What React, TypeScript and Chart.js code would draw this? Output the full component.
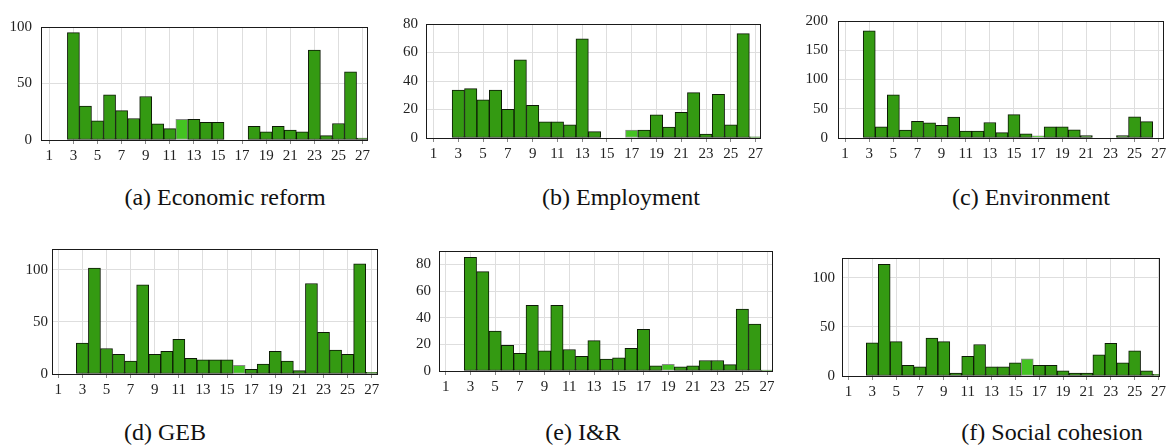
import React, { useEffect, useRef } from 'react';
import { Chart, registerables } from 'chart.js';

Chart.register(...registerables);

// ---------- data ----------
const positions = [1, 2, 3, 4, 5, 6, 7, 8, 9, 10, 11, 12, 13, 14, 15, 16, 17, 18, 19, 20, 21, 22, 23, 24, 25, 26, 27];
const xTickLabels = [1, 3, 5, 7, 9, 11, 13, 15, 17, 19, 21, 23, 25, 27];

const economicReform = [0, 0, 95, 30, 17, 40, 26, 19, 38.5, 14.3, 10, 18.3, 18.3, 15.7, 15.7, 0, 0, 12, 7.3, 12, 8.7, 7.3, 79.5, 3.9, 14.6, 60.4, 1.7];
const employment = [0, 0, 33.6, 34.7, 26.8, 33.6, 20.1, 54.8, 23, 11.3, 11.3, 9.2, 69.6, 4.5, 0, 0, 5.6, 5.6, 16.2, 7.7, 18, 31.8, 2.7, 30.6, 9.2, 73.2, 0.9];
const environment = [0, 0, 183, 18.9, 74, 13.5, 28.6, 26, 21.6, 35.7, 11.9, 11.9, 26.5, 9.2, 40, 7, 3.8, 19, 19, 14, 4.3, 0, 0, 4.3, 36.2, 28.1, 0];
const geb = [0, 0, 29.6, 101.6, 24.5, 18.8, 12.4, 85.7, 18.8, 21.7, 33.4, 15, 13.7, 13.7, 13.7, 8.3, 4.5, 9.6, 21.7, 12.4, 3.2, 86.9, 40.1, 22.9, 18.8, 105.7, 1.6];
const iAndR = [0, 0, 85.3, 74.5, 30, 19.2, 13.2, 49.2, 15.1, 49.2, 16.1, 11, 22.8, 8.9, 9.8, 17, 31.2, 3.8, 5, 3.1, 3.8, 7.9, 7.9, 4.8, 46.4, 35.1, 0.7];
const socialCohesion = [0, 0, 33.7, 113.5, 35, 10.9, 9.2, 38.6, 35, 3, 20.1, 32, 9.2, 9.2, 13.5, 17.5, 10.9, 10.9, 5.3, 3, 3, 21.5, 33.3, 13.5, 25.7, 5.3, 1.7];

const captions = ['(a) Economic reform', '(b) Employment', '(c) Environment', '(d) GEB', '(e) I&R', '(f) Social cohesion'];
const highlighted = [12, 17, 17, 16, 19, 16];
const yTicksA = [0, 50, 100];
const yTicksB = [0, 20, 40, 60, 80];
const yTicksC = [0, 50, 100, 150, 200];
const yTicksD = [0, 50, 100];
const yTicksE = [0, 20, 40, 60, 80];
const yTicksF = [0, 50, 100];
const yMax = [100, 80, 200, 120, 90, 120];

// ---------- layout (positions/styles) ----------
type Layout = { l: number; t: number; r: number; b: number; xmin: number; xmax: number; ypad: number; cx: number; cy: number };
const layouts: Layout[] = [
  { l: 41, t: 21, r: 368, b: 140, xmin: 0.31, xmax: 27.45, ypad: 9, cx: 225, cy: 197 },
  { l: 426, t: 19, r: 761, b: 138, xmin: 0.39, xmax: 27.44, ypad: 8, cx: 621, cy: 197 },
  { l: 838, t: 14, r: 1164, b: 138, xmin: 0.41, xmax: 27.44, ypad: 10, cx: 1031, cy: 197 },
  { l: 52, t: 248, r: 378, b: 374, xmin: 0.48, xmax: 27.52, ypad: 4, cx: 165, cy: 432 },
  { l: 439, t: 246, r: 773, b: 371, xmin: 0.46, xmax: 27.48, ypad: 8, cx: 583, cy: 432 },
  { l: 842, t: 254, r: 1163, b: 376, xmin: 0.46, xmax: 27.1, ypad: 7, cx: 1052, cy: 432 },
];

const DARK = '#349a12';
const LIGHT = '#44c322';
const FONT = '"Liberation Serif", serif';
const PADL = 45;
const PADT = 12;
const PADR = 6;
const PADB = 30;

const framePlugin = {
  id: 'frame',
  afterDatasetsDraw(chart: any) {
    const { ctx, chartArea } = chart;
    const { left, top, right, bottom } = chartArea;
    ctx.save();
    ctx.strokeStyle = '#1a1a1a';
    ctx.lineWidth = 1;
    ctx.strokeRect(Math.round(left) + 0.5, Math.round(top) + 0.5, Math.round(right - left) - 1, Math.round(bottom - top));
    ctx.restore();
  },
};

function Panel({ values, yTicks, ymax, hi, layout, caption }: { values: number[]; yTicks: number[]; ymax: number; hi: number; layout: Layout; caption: string }) {
  const ref = useRef<HTMLCanvasElement>(null);
  const w = layout.r - layout.l + PADL + PADR;
  const h = layout.b - layout.t + PADT + PADB;
  useEffect(() => {
    if (!ref.current) return;
    const chart = new Chart(ref.current, {
      type: 'bar',
      data: {
        datasets: [
          {
            data: positions.map((x, i) => ({ x, y: values[i] })),
            backgroundColor: positions.map((x) => (x === hi ? LIGHT : DARK)),
            borderColor: positions.map((x) => (x === hi ? '#8a8a8a' : '#0d1a06')),
            borderWidth: 1,
            borderSkipped: false,
            barPercentage: 1,
            categoryPercentage: 1,
            clip: 0,
          } as any,
        ],
      },
      options: {
        responsive: false,
        animation: false,
        devicePixelRatio: 1,
        layout: { padding: { top: PADT, right: PADR, left: 0, bottom: 0 } },
        plugins: { legend: { display: false }, tooltip: { enabled: false }, title: { display: false } },
        scales: {
          x: {
            type: 'linear',
            min: layout.xmin,
            max: layout.xmax,
            bounds: 'data',
            offset: false,
            grid: { offset: false, color: '#dedede', lineWidth: 1, drawTicks: true, tickLength: 4, tickColor: '#888' },
            border: { display: false },
            ticks: { autoSkip: false, maxRotation: 0, padding: 3, color: '#222', font: { family: FONT, size: 15 } },
            afterBuildTicks: (scale: any) => {
              scale.ticks = xTickLabels.map((v) => ({ value: v }));
            },
            afterFit: (scale: any) => {
              scale.height = PADB;
            },
          } as any,
          y: {
            type: 'linear',
            min: 0,
            max: ymax,
            grid: { color: '#dedede', lineWidth: 1, drawTicks: false },
            border: { display: false },
            ticks: { padding: layout.ypad, color: '#222', font: { family: FONT, size: 15 } },
            afterBuildTicks: (scale: any) => {
              scale.ticks = yTicks.map((v) => ({ value: v }));
            },
            afterFit: (scale: any) => {
              scale.width = PADL;
            },
          } as any,
        },
      },
      plugins: [framePlugin],
    });
    return () => chart.destroy();
  }, []);
  return (
    <>
      <canvas
        ref={ref}
        width={w}
        height={h}
        style={{ position: 'absolute', left: layout.l - PADL, top: layout.t - PADT, width: w, height: h }}
      />
      <div
        style={{
          position: 'absolute',
          left: layout.cx,
          top: layout.cy,
          transform: 'translate(-50%, -50%)',
          fontFamily: FONT,
          fontSize: 24,
          lineHeight: 1,
          whiteSpace: 'nowrap',
          color: '#111',
        }}
      >
        {caption}
      </div>
    </>
  );
}

export default function App() {
  const series = [economicReform, employment, environment, geb, iAndR, socialCohesion];
  const yTickSets = [yTicksA, yTicksB, yTicksC, yTicksD, yTicksE, yTicksF];
  return (
    <div style={{ position: 'fixed', left: 0, top: 0, width: 1171, height: 446, background: '#fff', overflow: 'hidden' }}>
      {series.map((s, i) => (
        <Panel key={i} values={s} yTicks={yTickSets[i]} ymax={yMax[i]} hi={highlighted[i]} layout={layouts[i]} caption={captions[i]} />
      ))}
    </div>
  );
}
